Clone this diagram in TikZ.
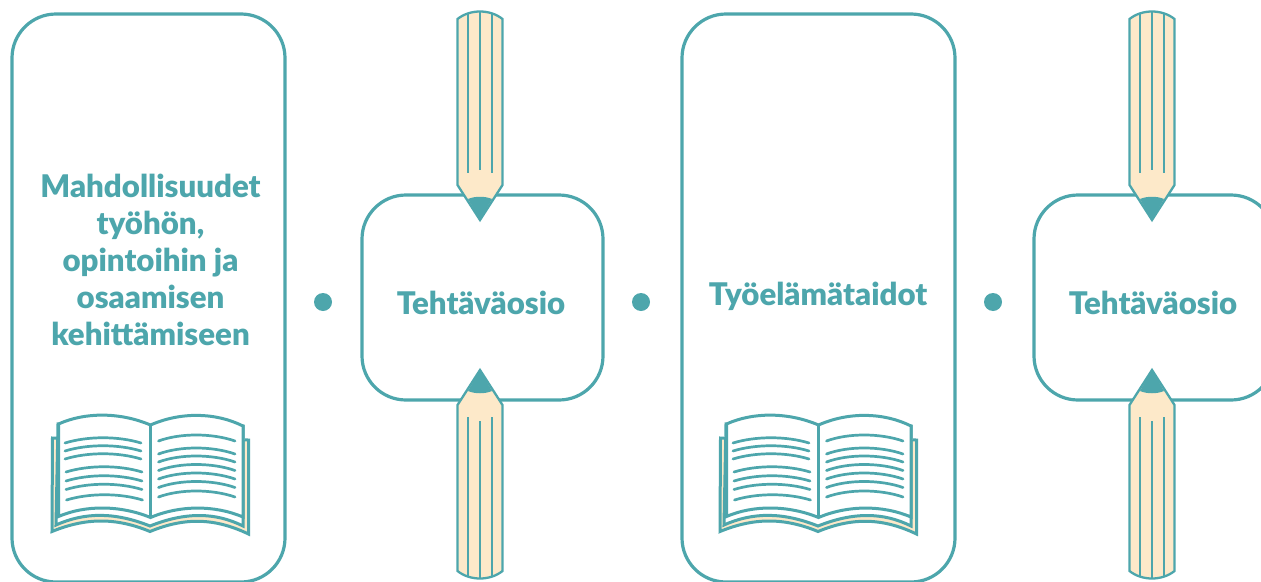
\documentclass[tikz,border=0pt]{standalone}
\usepackage{fontspec}
\setmainfont{Lato}[BoldFont={Lato Black}]
\definecolor{teal1}{HTML}{4DA6AC}
\definecolor{cream1}{HTML}{FDE9C9}
\tikzset{x=1pt,y=-1pt,
 panel/.style={draw=teal1,line width=3.2pt,fill=white,rounded corners=44pt,anchor=north west,inner sep=0pt,outer sep=0pt},
 label1/.style={text=teal1,font=\fontsize{31.2}{36.9}\selectfont\bfseries,align=center,inner sep=0pt},
 dot1/.style={circle,fill=teal1,minimum size=18pt,inner sep=0pt},
 ln/.style={draw=teal1,line width=2.3pt},
 txtln/.style={draw=teal1,line width=2.7pt,line cap=round},
 pencilup/.pic={
  \path[ln,fill=cream1] (-22.5,19) .. controls (-10,9) and (10,9) .. (22.5,19) -- (22.5,185) -- (0,220) -- (-22.5,185) -- cycle;
  \fill[teal1] (-12,199) .. controls (-5,196) and (5,196) .. (12,199) -- (0,220) -- cycle;
  \draw[ln] (-12,13.5) -- (-12,173); \draw[ln] (0,12) -- (0,170); \draw[ln] (12,13.5) -- (12,173);
 },
 pencildown/.pic={
  \path[ln,fill=cream1] (-22.5,571) .. controls (-10,581) and (10,581) .. (22.5,571) -- (22.5,405) -- (0,370) -- (-22.5,405) -- cycle;
  \fill[teal1] (-12,391) .. controls (-5,394) and (5,394) .. (12,391) -- (0,370) -- cycle;
  \draw[ln] (-12,417) -- (-12,577); \draw[ln] (0,421) -- (0,579); \draw[ln] (12,417) -- (12,577);
 },
 bookpic/.pic={
  \path[ln,line width=3pt,fill=cream1] (52.5,438) -- (52,531.5) .. controls (85,518) and (115,517) .. (150,531.5) .. controls (185,517) and (215,518) .. (248.5,534) -- (248.5,440) -- cycle;
  \fill[white] (56,440) rectangle (245,420);
  \path[ln,line width=3pt,fill=white] (56,525) .. controls (85,512) and (115,512) .. (150,526) .. controls (185,512) and (215,512) .. (243,526) -- (243,426) -- (58,424) -- cycle;
  \path[ln,line width=3pt,fill=white] (58.5,424) .. controls (85,412) and (120,412) .. (150.5,425) .. controls (180,412) and (215,412) .. (243,426) -- (243,517) .. controls (215,505) and (180,505) .. (150.5,517.5) .. controls (120,505) and (85,505) .. (58.5,516.5) -- cycle;
  \draw[ln,line width=3pt] (150.5,425) -- (150.5,517.5);
  \foreach \y/\dx in {443/0,451/0,459/0,472/1,481/1,489.5/1,500/1.5}{
   \draw[txtln] (65+\dx,\y) .. controls (88+\dx,\y-7) and (118+\dx,\y-7) .. (141+\dx,\y);
  }
  \foreach \y in {441,454,462,470.5,479,487.5,497}{
   \draw[txtln] (158.5,\y) .. controls (180,\y-8) and (212,\y-8) .. (235,\y);
  }
 }
}
\begin{document}
\begin{tikzpicture}
\useasboundingbox (0,0) rectangle (1261,581);
\begin{scope}
\clip (0,0) rectangle (1261,581);
\node[panel,minimum width=273pt,minimum height=568pt] (p1) at (12,14) {};
\node[panel,minimum width=241pt,minimum height=205pt] (p2) at (362,195) {};
\node[panel,minimum width=273pt,minimum height=568pt] (p3) at (682,14) {};
\node[panel,minimum width=241pt,minimum height=205pt] (p4) at (1034,195) {};
\pic (penA) at (480,0) {pencilup};
\pic (penB) at (480,0) {pencildown};
\pic (penC) at (1152,0) {pencilup};
\pic (penD) at (1152,0) {pencildown};
\pic (bookA) at (0,0) {bookpic};
\pic (bookB) at (668,0) {bookpic};
\end{scope}
\node[label1] (t1) at (150.5,260) {Mahdollisuudet\\työhön,\\opintoihin ja\\osaamisen\\kehittämiseen};
\node[label1] (t2) at (481,302.5) {Tehtäväosio};
\node[label1] (t3) at (818,296.5) {Työelämätaidot};
\node[label1] (t4) at (1153,302.5) {Tehtäväosio};
\node[dot1] (d1) at (323,302) {};
\node[dot1] (d2) at (641,302) {};
\node[dot1] (d3) at (993,302) {};
\end{tikzpicture}
\end{document}
